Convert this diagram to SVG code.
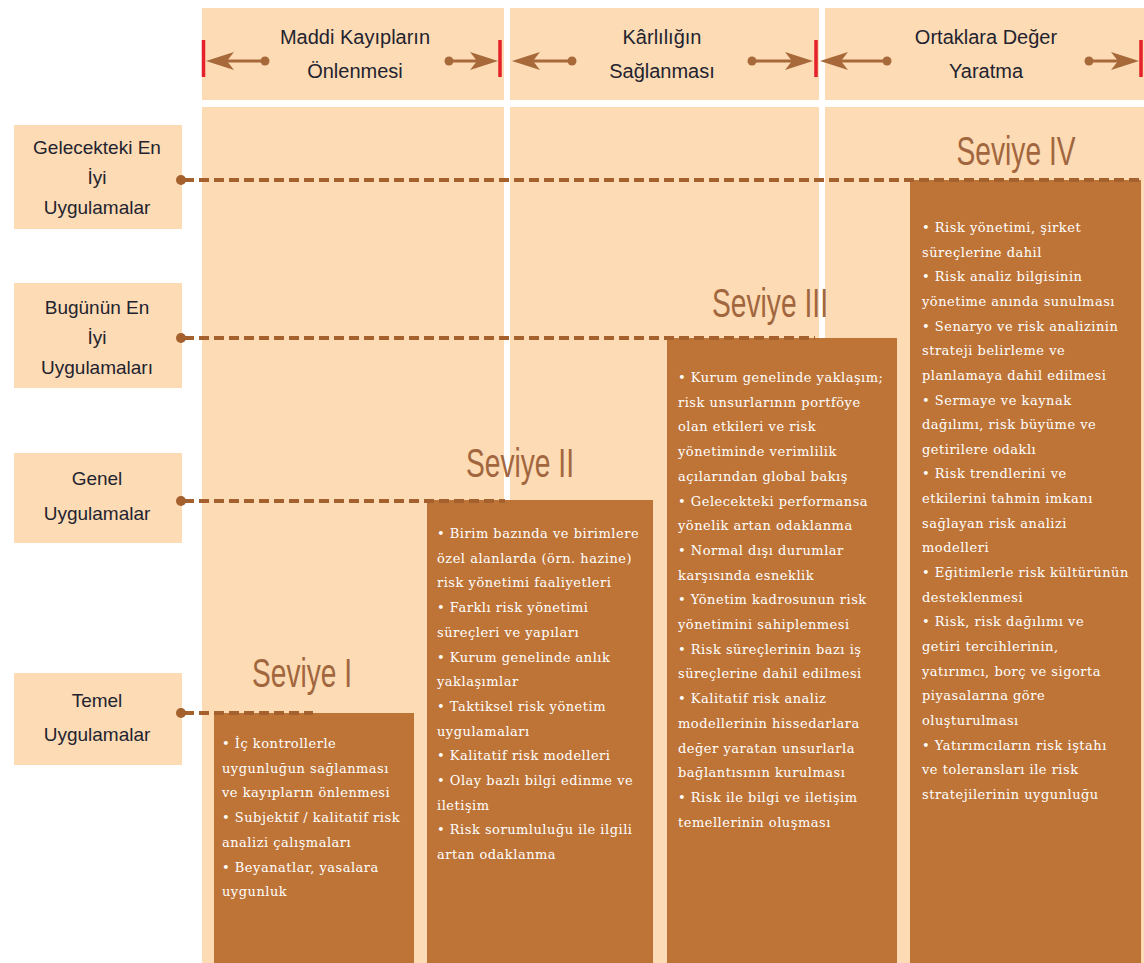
<svg xmlns="http://www.w3.org/2000/svg" width="1144" height="963" viewBox="0 0 1144 963">
<defs>
<style>
.peach{fill:#FDDBB5}
.box{fill:#BE7437}
.hdr{font-family:"Liberation Sans",Arial,sans-serif;font-size:20px;fill:#23232f;text-anchor:middle}
.lbl{font-family:"Liberation Sans",Arial,sans-serif;font-size:19px;fill:#23232f;text-anchor:middle}
.sev{font-family:"Liberation Sans",Arial,sans-serif;font-size:40px;fill:#A2663E;text-anchor:middle}
.body{font-family:"DejaVu Serif","Liberation Serif",serif;font-size:13px;fill:#ffffff;letter-spacing:0.5px}
.dash{stroke:#A4602D;stroke-width:4;stroke-dasharray:10 5;fill:none}
.dot{fill:#A4602D}
.arr{stroke:#A8693A;stroke-width:3;fill:none}
.arrh{fill:#A8693A}
.red{stroke:#E5202A;stroke-width:3.5}
</style>
</defs>
<rect width="1144" height="963" fill="#ffffff"/>

<g id="header">
<rect class="peach" x="202" y="8" width="302" height="92"/>
<rect class="peach" x="510" y="8" width="309" height="92"/>
<rect class="peach" x="825" y="8" width="319" height="92"/>
<text class="hdr" x="355" y="44">Maddi Kayıpların</text>
<text class="hdr" x="355" y="78">Önlenmesi</text>
<text class="hdr" x="662" y="44">Kârlılığın</text>
<text class="hdr" x="662" y="78">Sağlanması</text>
<text class="hdr" x="986" y="44">Ortaklara Değer</text>
<text class="hdr" x="986" y="78">Yaratma</text>
</g>

<g id="panel">
<rect class="peach" x="202" y="107" width="302" height="856"/>
<rect class="peach" x="510" y="107" width="309" height="856"/>
<rect class="peach" x="825" y="107" width="319" height="856"/>
</g>

<g id="label-gelecekteki">
<rect class="peach" x="14" y="125" width="168" height="104"/>
<text class="lbl" x="97" y="154">Gelecekteki En</text>
<text class="lbl" x="97" y="184">İyi</text>
<text class="lbl" x="97" y="214">Uygulamalar</text>
</g>
<g id="label-bugunun">
<rect class="peach" x="14" y="283" width="168" height="105"/>
<text class="lbl" x="97" y="314">Bugünün En</text>
<text class="lbl" x="97" y="344">İyi</text>
<text class="lbl" x="97" y="374">Uygulamaları</text>
</g>
<g id="label-genel">
<rect class="peach" x="14" y="453" width="168" height="90"/>
<text class="lbl" x="97" y="485">Genel</text>
<text class="lbl" x="97" y="520">Uygulamalar</text>
</g>
<g id="label-temel">
<rect class="peach" x="14" y="673" width="168" height="92"/>
<text class="lbl" x="97" y="707">Temel</text>
<text class="lbl" x="97" y="741">Uygulamalar</text>
</g>

<g id="seviye-1">
<text class="sev" x="302" y="687" textLength="100" lengthAdjust="spacingAndGlyphs">Seviye I</text>
<rect class="box" x="214" y="713" width="200" height="250"/>
<text class="body" x="222" y="748">
<tspan x="222" dy="0">• İç kontrollerle</tspan>
<tspan x="222" dy="24.7">uygunluğun sağlanması</tspan>
<tspan x="222" dy="24.7">ve kayıpların önlenmesi</tspan>
<tspan x="222" dy="24.7">• Subjektif / kalitatif risk</tspan>
<tspan x="222" dy="24.7">analizi çalışmaları</tspan>
<tspan x="222" dy="24.7">• Beyanatlar, yasalara</tspan>
<tspan x="222" dy="24.7">uygunluk</tspan>
</text>
</g>

<g id="seviye-2">
<text class="sev" x="520" y="477" textLength="108" lengthAdjust="spacingAndGlyphs">Seviye II</text>
<rect class="box" x="427" y="500" width="226" height="463"/>
<text class="body" x="437" y="538">
<tspan x="437" dy="0">• Birim bazında ve birimlere</tspan>
<tspan x="437" dy="24.7">özel alanlarda (örn. hazine)</tspan>
<tspan x="437" dy="24.7">risk yönetimi faaliyetleri</tspan>
<tspan x="437" dy="24.7">• Farklı risk yönetimi</tspan>
<tspan x="437" dy="24.7">süreçleri ve yapıları</tspan>
<tspan x="437" dy="24.7">• Kurum genelinde anlık</tspan>
<tspan x="437" dy="24.7">yaklaşımlar</tspan>
<tspan x="437" dy="24.7">• Taktiksel risk yönetim</tspan>
<tspan x="437" dy="24.7">uygulamaları</tspan>
<tspan x="437" dy="24.7">• Kalitatif risk modelleri</tspan>
<tspan x="437" dy="24.7">• Olay bazlı bilgi edinme ve</tspan>
<tspan x="437" dy="24.7">iletişim</tspan>
<tspan x="437" dy="24.7">• Risk sorumluluğu ile ilgili</tspan>
<tspan x="437" dy="24.7">artan odaklanma</tspan>
</text>
</g>

<g id="seviye-3">
<text class="sev" x="770" y="317" textLength="116" lengthAdjust="spacingAndGlyphs">Seviye III</text>
<rect class="box" x="667" y="338" width="230" height="625"/>
<text class="body" x="678" y="382">
<tspan x="678" dy="0">• Kurum genelinde yaklaşım;</tspan>
<tspan x="678" dy="24.7">risk unsurlarının portföye</tspan>
<tspan x="678" dy="24.7">olan etkileri ve risk</tspan>
<tspan x="678" dy="24.7">yönetiminde verimlilik</tspan>
<tspan x="678" dy="24.7">açılarından global bakış</tspan>
<tspan x="678" dy="24.7">• Gelecekteki performansa</tspan>
<tspan x="678" dy="24.7">yönelik artan odaklanma</tspan>
<tspan x="678" dy="24.7">• Normal dışı durumlar</tspan>
<tspan x="678" dy="24.7">karşısında esneklik</tspan>
<tspan x="678" dy="24.7">• Yönetim kadrosunun risk</tspan>
<tspan x="678" dy="24.7">yönetimini sahiplenmesi</tspan>
<tspan x="678" dy="24.7">• Risk süreçlerinin bazı iş</tspan>
<tspan x="678" dy="24.7">süreçlerine dahil edilmesi</tspan>
<tspan x="678" dy="24.7">• Kalitatif risk analiz</tspan>
<tspan x="678" dy="24.7">modellerinin hissedarlara</tspan>
<tspan x="678" dy="24.7">değer yaratan unsurlarla</tspan>
<tspan x="678" dy="24.7">bağlantısının kurulması</tspan>
<tspan x="678" dy="24.7">• Risk ile bilgi ve iletişim</tspan>
<tspan x="678" dy="24.7">temellerinin oluşması</tspan>
</text>
</g>

<g id="seviye-4">
<text class="sev" x="1016" y="165" textLength="119" lengthAdjust="spacingAndGlyphs">Seviye IV</text>
<rect class="box" x="910" y="180" width="231" height="783"/>
<text class="body" x="922" y="232">
<tspan x="922" dy="0">• Risk yönetimi, şirket</tspan>
<tspan x="922" dy="24.65">süreçlerine dahil</tspan>
<tspan x="922" dy="24.65">• Risk analiz bilgisinin</tspan>
<tspan x="922" dy="24.65">yönetime anında sunulması</tspan>
<tspan x="922" dy="24.65">• Senaryo ve risk analizinin</tspan>
<tspan x="922" dy="24.65">strateji belirleme ve</tspan>
<tspan x="922" dy="24.65">planlamaya dahil edilmesi</tspan>
<tspan x="922" dy="24.65">• Sermaye ve kaynak</tspan>
<tspan x="922" dy="24.65">dağılımı, risk büyüme ve</tspan>
<tspan x="922" dy="24.65">getirilere odaklı</tspan>
<tspan x="922" dy="24.65">• Risk trendlerini ve</tspan>
<tspan x="922" dy="24.65">etkilerini tahmin imkanı</tspan>
<tspan x="922" dy="24.65">sağlayan risk analizi</tspan>
<tspan x="922" dy="24.65">modelleri</tspan>
<tspan x="922" dy="24.65">• Eğitimlerle risk kültürünün</tspan>
<tspan x="922" dy="24.65">desteklenmesi</tspan>
<tspan x="922" dy="24.65">• Risk, risk dağılımı ve</tspan>
<tspan x="922" dy="24.65">getiri tercihlerinin,</tspan>
<tspan x="922" dy="24.65">yatırımcı, borç ve sigorta</tspan>
<tspan x="922" dy="24.65">piyasalarına göre</tspan>
<tspan x="922" dy="24.65">oluşturulması</tspan>
<tspan x="922" dy="24.65">• Yatırımcıların risk iştahı</tspan>
<tspan x="922" dy="24.65">ve toleransları ile risk</tspan>
<tspan x="922" dy="24.65">stratejilerinin uygunluğu</tspan>
</text>
</g>

<g id="connectors">
<line class="dash" x1="184" y1="180" x2="1144" y2="180"/>
<circle class="dot" cx="181" cy="180" r="5"/>
<line class="dash" x1="184" y1="338" x2="815" y2="338"/>
<circle class="dot" cx="181" cy="338" r="5"/>
<line class="dash" x1="184" y1="501" x2="505" y2="501"/>
<circle class="dot" cx="181" cy="501" r="5"/>
<line class="dash" x1="184" y1="713" x2="313" y2="713"/>
<circle class="dot" cx="181" cy="713" r="5"/>

<line class="red" x1="203.5" y1="40" x2="203.5" y2="77"/>
<line class="red" x1="500" y1="40" x2="500" y2="77"/>
<line class="red" x1="816" y1="40" x2="816" y2="77"/>
<line class="red" x1="1141" y1="40" x2="1141" y2="77"/>

<line class="arr" x1="225" y1="61" x2="264" y2="61"/>
<circle class="arrh" cx="265" cy="61" r="4.5"/>
<path class="arrh" d="M206,61 L234,52 L227,61 L234,70 Z"/>
<line class="arr" x1="449" y1="61" x2="478" y2="61"/>
<circle class="arrh" cx="449" cy="61" r="4.5"/>
<path class="arrh" d="M498,61 L470,52 L477,61 L470,70 Z"/>

<line class="arr" x1="532" y1="61" x2="571" y2="61"/>
<circle class="arrh" cx="572" cy="61" r="4.5"/>
<path class="arrh" d="M512,61 L540,52 L533,61 L540,70 Z"/>
<line class="arr" x1="752" y1="61" x2="793" y2="61"/>
<circle class="arrh" cx="752" cy="61" r="4.5"/>
<path class="arrh" d="M813,61 L785,52 L792,61 L785,70 Z"/>

<line class="arr" x1="840" y1="61" x2="886" y2="61"/>
<circle class="arrh" cx="887" cy="61" r="4.5"/>
<path class="arrh" d="M820,61 L848,52 L841,61 L848,70 Z"/>
<line class="arr" x1="1089" y1="61" x2="1120" y2="61"/>
<circle class="arrh" cx="1089" cy="61" r="4.5"/>
<path class="arrh" d="M1139,61 L1111,52 L1118,61 L1111,70 Z"/>
</g>
</svg>
